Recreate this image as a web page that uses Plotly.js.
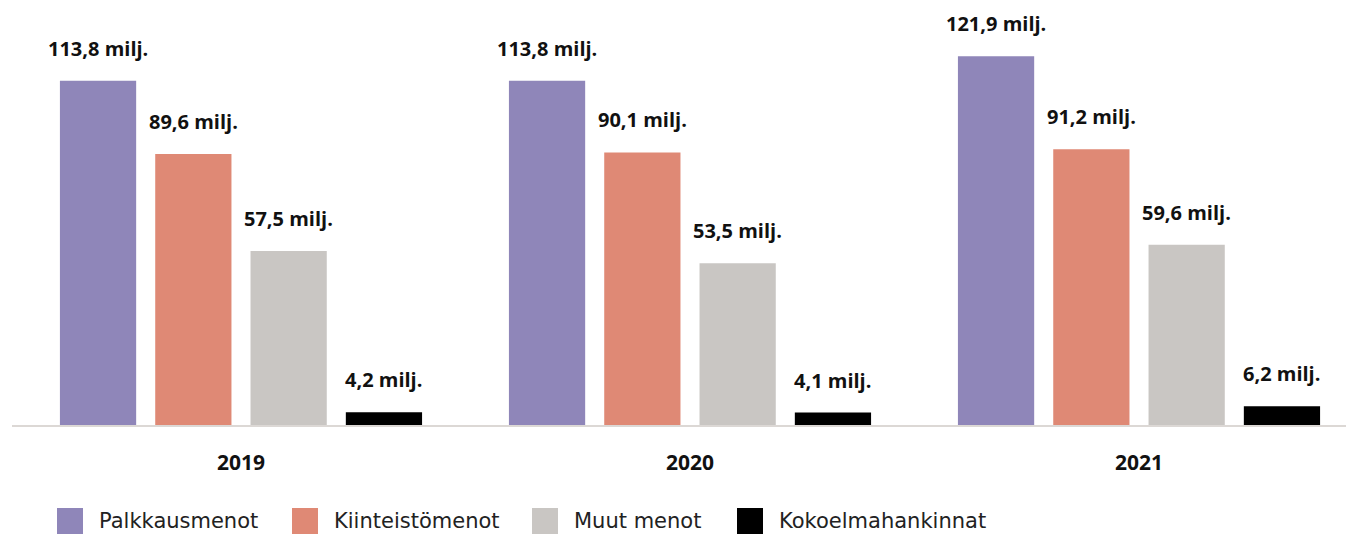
<!DOCTYPE html>
<html>
<head>
<meta charset="utf-8">
<script src="https://cdn.plot.ly/plotly-3.0.1.min.js"></script>
<style>html,body{margin:0;padding:0;background:#fff;}#chart{width:1346px;height:535px;}</style>
</head>
<body>
<div id="chart"></div>
<script>
const years = ['2019', '2020', '2021'];
const seriesNames = ['Palkkausmenot', 'Kiinteistömenot', 'Muut menot', 'Kokoelmahankinnat'];
const palkkausmenot = [113.8, 113.8, 121.9];
const kiinteistomenot = [89.6, 90.1, 91.2];
const muutMenot = [57.5, 53.5, 59.6];
const kokoelmahankinnat = [4.2, 4.1, 6.2];
const colors = ['#8f86b9', '#df8975', '#c9c6c3', '#000000'];

const seriesValues = [palkkausmenot, kiinteistomenot, muutMenot, kokoelmahankinnat];
const W = 1346, H = 535, B = 110;
const bargap = 0.151, bargroupgap = 0.2;

const traces = seriesValues.map((vals, j) => ({
  type: 'bar',
  name: seriesNames[j],
  x: years,
  y: vals,
  marker: {color: colors[j], line: {width: 0}},
  hoverinfo: 'x+y+name'
}));

const fmt = v => v.toFixed(1).replace('.', ',') + ' milj.';
const annotations = [];
const slot = (1 - bargap) / seriesValues.length;
seriesValues.forEach((vals, j) => {
  vals.forEach((v, i) => {
    annotations.push({
      x: i + (j - (seriesValues.length - 1) / 2) * slot,
      y: v, xref: 'x', yref: 'y',
      text: fmt(v), showarrow: false,
      xanchor: 'center', yanchor: 'bottom', yshift: 17,
      font: {family: 'Open Sans', size: 20, color: '#111', weight: 700}
    });
  });
});

// custom legend
const plotH = H - B;
const legendX = [57, 292, 532, 737];
const sq = 26;
const legCenterY = 521;
const shapes = [];
seriesNames.forEach((n, j) => {
  shapes.push({
    type: 'rect', xref: 'paper', yref: 'paper',
    x0: legendX[j] / W, x1: (legendX[j] + sq) / W,
    y0: (plotH - (legCenterY + sq / 2)) / plotH, y1: (plotH - (legCenterY - sq / 2)) / plotH,
    fillcolor: colors[j], line: {width: 0}
  });
  annotations.push({
    xref: 'paper', yref: 'paper',
    x: (legendX[j] + sq + 14) / W, y: (plotH - legCenterY) / plotH,
    xanchor: 'left', yanchor: 'middle', showarrow: false,
    text: n, font: {family: 'DejaVu Sans', size: 21, color: '#222'}
  });
});

const layout = {
  width: W, height: H,
  margin: {l: 0, r: 0, t: 0, b: B, pad: 0},
  paper_bgcolor: '#fff', plot_bgcolor: '#fff',
  barmode: 'group', bargap: bargap, bargroupgap: bargroupgap,
  showlegend: false,
  xaxis: {
    type: 'category', domain: [12 / W, 1], range: [-0.510, 2.461],
    showline: true, linecolor: '#dcd8d5', linewidth: 1.5,
    ticks: '', showgrid: false, zeroline: false,
    ticklabelstandoff: 18,
    tickfont: {family: 'Open Sans', size: 21, color: '#111', weight: 700}
  },
  yaxis: {
    range: [0, 140.5], visible: false, showgrid: false, zeroline: false, fixedrange: true
  },
  annotations: annotations,
  shapes: shapes
};

Plotly.newPlot('chart', traces, layout, {displayModeBar: false, staticPlot: true});
</script>
</body>
</html>
